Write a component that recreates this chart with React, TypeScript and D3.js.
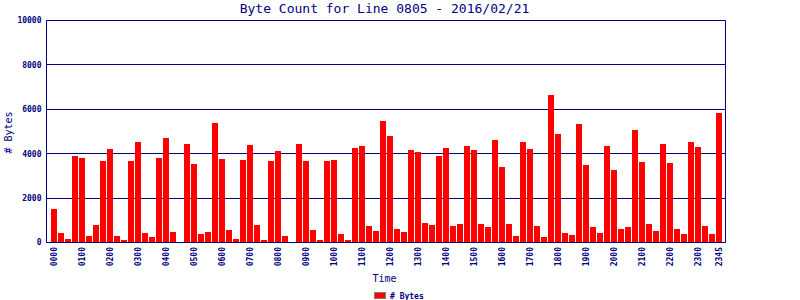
import React from "react";
import * as d3 from "d3";

const title = "Byte Count for Line 0805 - 2016/02/21";
const yTicks = [0, 2000, 4000, 6000, 8000, 10000];
const byteCounts = [
  1500, 420, 150, 3900, 3800, 290, 780, 3670, 4210, 290, 105, 3670, 4530, 420, 240, 3800,
  4710, 470, 0, 4440, 3530, 380, 470, 5380, 3760, 560, 150, 3710, 4390, 780, 105, 3670,
  4120, 290, 0, 4440, 3670, 560, 105, 3670, 3710, 380, 105, 4260, 4350, 740, 510, 5470,
  4800, 600, 470, 4170, 4080, 870, 780, 3900, 4260, 740, 830, 4350, 4170, 830, 690, 4620,
  3400, 830, 290, 4530, 4210, 740, 240, 6650, 4890, 420, 330, 5340, 3490, 690, 420, 4350,
  3260, 600, 690, 5070, 3620, 830, 510, 4440, 3580, 600, 380, 4530, 4300, 740, 380, 5840,
];
const timeLabels = byteCounts.map((_, i) => {
  const h = Math.floor(i / 4);
  const m = (i % 4) * 15;
  return String(h).padStart(2, "0") + String(m).padStart(2, "0");
});
const labeledIdx = [...d3.range(0, 96, 4), 95];

const NAVY = "#000080";
const FONT = "'DejaVu Sans Mono', monospace";

export default function App() {
  const W = 800, H = 300;
  const left = 46.5, right = 725.5, top = 20.5, bottom = 242.5;
  const x = d3
    .scaleBand<number>()
    .domain(d3.range(byteCounts.length))
    .range([51, 722])
    .paddingInner(1 / 7)
    .paddingOuter(0);
  const y = d3.scaleLinear().domain([0, 10000]).range([242.5, 20.5]);
  const crisp = (v: number) => Math.floor(v) + 0.5;

  return (
    <svg
      width={W}
      height={H}
      style={{ position: "absolute", left: 0, top: 0, background: "#fff" }}
      fontFamily={FONT}
    >
      <rect x={0} y={0} width={W} height={H} fill="#fff" />
      <text x={384.5} y={13} textAnchor="middle" fontSize={13} fill={NAVY}>
        {title}
      </text>
      {/* gridlines */}
      {yTicks.map((t) => (
        <line
          key={t}
          x1={left}
          x2={right}
          y1={crisp(y(t))}
          y2={crisp(y(t))}
          stroke={NAVY}
          strokeWidth={1}
        />
      ))}
      {/* bars */}
      {byteCounts.map((v, i) => (
        <rect
          key={i}
          x={Math.round(x(i)!)}
          y={Math.round(y(v))}
          width={6}
          height={Math.max(0, 242 - Math.round(y(v)))}
          fill="#ff0000"
        />
      ))}
      {/* frame */}
      <line x1={left} x2={left} y1={top} y2={bottom} stroke={NAVY} />
      <line x1={right} x2={right} y1={top} y2={bottom} stroke={NAVY} />
      <line x1={left} x2={right} y1={crisp(y(0))} y2={crisp(y(0))} stroke={NAVY} />
      {/* y tick labels */}
      {yTicks.map((t) => (
        <text
          key={t}
          x={41.5}
          y={y(t)}
          dy="0.35em"
          textAnchor="end"
          fontSize={8}
          fontWeight="bold"
          fill={NAVY}
        >
          {t}
        </text>
      ))}
      {/* x tick labels */}
      {labeledIdx.map((i) => {
        const cx = x(i)! + x.bandwidth() / 2;
        return (
          <text
            key={i}
            transform={`translate(${cx},247) rotate(-90)`}
            dy="0.35em"
            textAnchor="end"
            fontSize={8}
            fontWeight="bold"
            fill={NAVY}
          >
            {timeLabels[i]}
          </text>
        );
      })}
      {/* axis titles */}
      <text
        transform={`translate(8,132.5) rotate(-90)`}
        dy="0.35em"
        textAnchor="middle"
        fontSize={10}
        fill={NAVY}
      >
        # Bytes
      </text>
      <text x={384.5} y={282} textAnchor="middle" fontSize={10} fill={NAVY}>
        Time
      </text>
      {/* legend */}
      <rect x={374.5} y={292.5} width={11} height={6} fill="#ff0000" stroke="#808080" />
      <text x={390} y={298.5} fontSize={8} fontWeight="bold" fill={NAVY}>
        # Bytes
      </text>
    </svg>
  );
}
